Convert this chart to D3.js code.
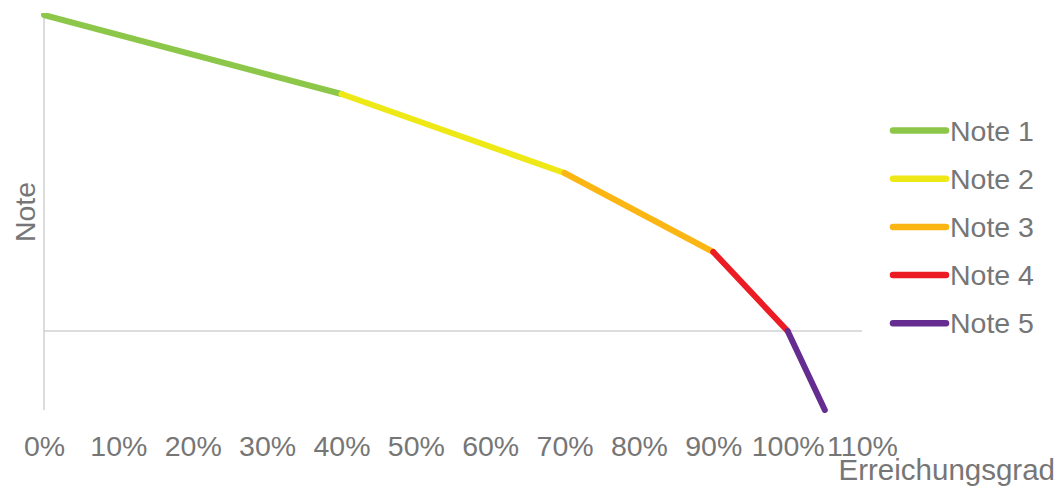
<!DOCTYPE html>
<html>
<head>
<meta charset="utf-8">
<script src="https://cdn.jsdelivr.net/npm/d3@7"></script>
<style>
html,body{margin:0;padding:0;background:#fff;}
svg{display:block;}
text{font-family:"Liberation Sans",Arial,sans-serif;fill:#767676;}
</style>
</head>
<body>
<svg id="chart" width="1059" height="488"></svg>
<script>
// Data
const seriesNames = ["Note 1", "Note 2", "Note 3", "Note 4", "Note 5"];
const seriesColors = ["#8dc74a", "#efe817", "#fbb614", "#ec1c24", "#662d91"];
const seriesX = [[0, 0.4], [0.4, 0.7], [0.7, 0.9], [0.9, 1.0], [1.0, 1.05]];
const seriesY = [[4, 3], [3, 2], [2, 1], [1, 0], [0, -1]];
const xTicks = [0, 0.1, 0.2, 0.3, 0.4, 0.5, 0.6, 0.7, 0.8, 0.9, 1.0, 1.1];
const xTitle = "Erreichungsgrad";
const yTitle = "Note";

const svg = d3.select("#chart");
const pLeft = 44, pRight = 862, pTop = 13, pBottom = 410;
const x = d3.scaleLinear().domain([0, 1.1]).range([pLeft, pRight]);
const y = d3.scaleLinear().domain([-1, 4]).range([pBottom, 15]);

svg.append("defs").append("clipPath").attr("id", "clip")
  .append("rect").attr("x", pLeft - 10).attr("y", pTop).attr("width", pRight - pLeft + 20).attr("height", pBottom - pTop + 10);

// axis lines
svg.append("line").attr("x1", x(0)).attr("x2", x(0)).attr("y1", pTop).attr("y2", pBottom)
  .attr("stroke", "#d0d0d0").attr("stroke-width", 1.5);
svg.append("line").attr("x1", pLeft).attr("x2", pRight).attr("y1", y(0)).attr("y2", y(0))
  .attr("stroke", "#d0d0d0").attr("stroke-width", 1.5);

// tick labels (low position)
const xAxis = d3.axisBottom(x).tickValues(xTicks).tickFormat(d3.format(".0%")).tickSize(0).tickPadding(0);
const gx = svg.append("g").attr("transform", `translate(0,${pBottom})`).call(xAxis);
gx.select(".domain").remove();
gx.selectAll("text").attr("y", 46).attr("dy", 0).attr("font-size", 28.5)
  .style("font-family", '"Liberation Sans",Arial,sans-serif').attr("fill", "#767676");

// titles
svg.append("text").attr("x", 1055).attr("y", 480).attr("text-anchor", "end").attr("font-size", 29.5).text(xTitle);
svg.append("text").attr("transform", "translate(35,212) rotate(-90)").attr("text-anchor", "middle").attr("font-size", 28.5).text(yTitle);

// lines
const line = d3.line().x(d => x(d[0])).y(d => y(d[1]));
const g = svg.append("g").attr("clip-path", "url(#clip)");
seriesNames.forEach((name, i) => {
  const pts = seriesX[i].map((xv, j) => [xv, seriesY[i][j]]);
  g.append("path").datum(pts).attr("d", line).attr("fill", "none")
    .attr("stroke", seriesColors[i]).attr("stroke-width", 6).attr("stroke-linecap", "round");
});

// legend
const legend = svg.append("g");
seriesNames.forEach((name, i) => {
  const ly = 130.5 + i * 48.2;
  legend.append("line").attr("x1", 893).attr("x2", 946).attr("y1", ly).attr("y2", ly)
    .attr("stroke", seriesColors[i]).attr("stroke-width", 6.5).attr("stroke-linecap", "round");
  legend.append("text").attr("x", 950).attr("y", ly + 10).attr("font-size", 28.5).text(name);
});
</script>
</body>
</html>
